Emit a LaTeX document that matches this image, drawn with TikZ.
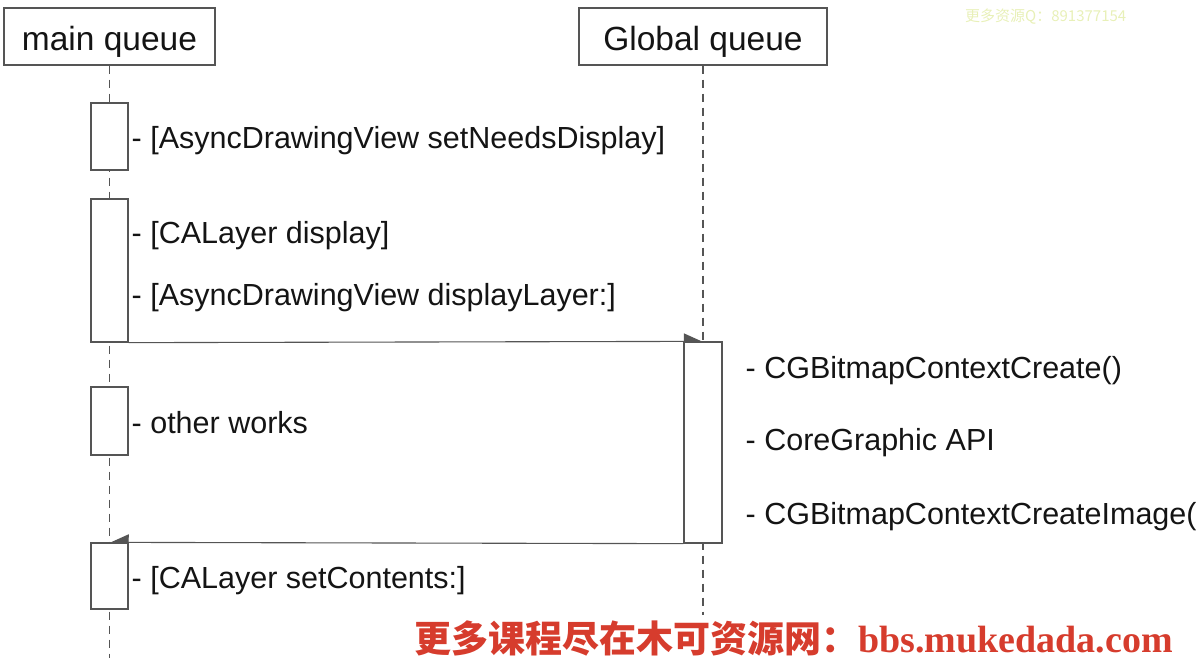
\documentclass[tikz,border=0pt]{standalone}
\usepackage{fontspec}
\setmainfont{Liberation Sans}
\newfontfamily\cjk{Noto Sans CJK SC}
\newfontfamily\serifbold{Liberation Serif}
\usetikzlibrary{arrows.meta, positioning}

\definecolor{linegray}{RGB}{85,85,85}
\definecolor{textblack}{RGB}{20,20,20}
\definecolor{markred}{RGB}{214,60,45}
\definecolor{markgreen}{RGB}{232,240,184}

\begin{document}
\begin{tikzpicture}[x=1pt, y=-1pt,
	header/.style={draw=linegray, line width=1.3pt, inner sep=0pt, minimum height=57pt, text height=31pt, text depth=3pt, text=textblack, font=\fontsize{33.5}{36}\selectfont},
	activation/.style={draw=linegray, line width=1.3pt, fill=white, inner sep=0pt, minimum width=37pt},
	lifeline/.style={draw=linegray, line width=1.3pt, dash pattern=on 8pt off 6pt},
	msg/.style={draw=linegray, line width=1.1pt},
	call/.style={anchor=base west, inner sep=0pt, text=textblack, font=\fontsize{30.5}{33}\selectfont}]
			\useasboundingbox (0,0) rectangle (1196,658);
			
			% Queues
			\node[header, minimum width=211pt] (mainq) at (109.5, 36.5) {main queue};
			\node[header, minimum width=248pt] (globalq) at (703, 36.5) {Global queue};
			\coordinate (mainend) at (109.5, 658);
			\coordinate (globalend) at (703, 615);
			
			% Lifelines
			\draw[lifeline] (mainq.south) -- (mainend);
			\draw[lifeline] (globalq.south) -- (globalend);
			
			% Activations on main queue
			\node[activation, minimum height=67pt] (act1) at (109.5, 136.5) {};
			\node[activation, minimum height=143pt] (act2) at (109.5, 270.5) {};
			\node[activation, minimum height=68pt] (act3) at (109.5, 421) {};
			\node[activation, minimum height=66pt] (act4) at (109.5, 576) {};
			
			% Activation on global queue
			\node[activation, minimum width=38pt, minimum height=201pt] (gact) at (703, 442.5) {};
			
			% Messages
			\draw[msg, -{Triangle[left, length=18pt, width=16pt]}] (act2.south east) -- (gact.north);
			\draw[msg, -{Triangle[right, length=18pt, width=16pt]}] (gact.south west) -- (act4.north);
			
			% Calls
			\node[call] (setneeds) at (131.5, 148) {- [AsyncDrawingView setNeedsDisplay]};
			\node[call] (display) at (131.5, 243) {- [CALayer display]};
			\node[call] (displaylayer) at (131.5, 305) {- [AsyncDrawingView displayLayer:]};
			\node[call] (other) at (131.5, 433) {- other works};
			\node[call] (contents) at (131.5, 588.5) {- [CALayer setContents:]};
			\node[call] (ctxcreate) at (745.5, 378) {- CGBitmapContextCreate()};
			\node[call] (cgapi) at (745.5, 450) {- CoreGraphic API};
			\node[call] (ctximage) at (745.5, 524) {- CGBitmapContextCreateImage(};
			
			% Watermarks
			\node[anchor=west, inner sep=0pt, text=markgreen, font=\cjk\fontsize{15}{16}\selectfont] (qq) at (965, 17) {更多资源Q：891377154};
			\node[anchor=base west, inner sep=0pt, text=markred, font=\bfseries\fontsize{37}{40}\selectfont] (site) at (414, 652) {{\cjk 更多课程尽在木可资源网：}{\serifbold\fontsize{38}{40}\selectfont bbs.mukedada.com}};
		\end{tikzpicture}
\end{document}
